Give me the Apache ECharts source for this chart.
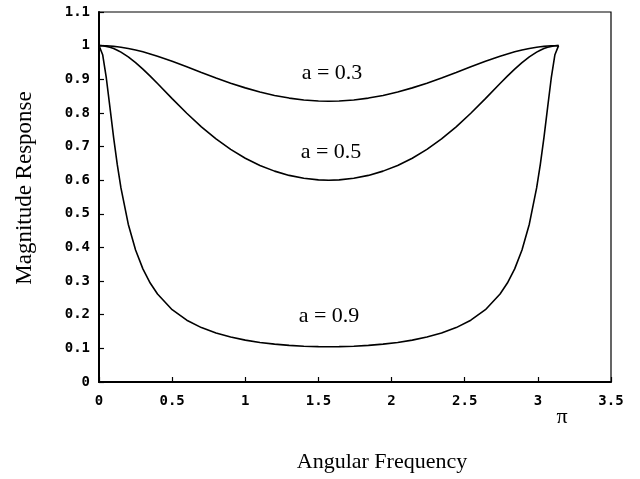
<!DOCTYPE html>
<html>
<head>
<meta charset="utf-8">
<script src="https://cdn.jsdelivr.net/npm/echarts@6/dist/echarts.min.js"></script>
<style>
html,body{margin:0;padding:0;background:#fff;}
#chart{width:640px;height:479px;}
</style>
</head>
<body>
<div id="chart"></div>
<script>
// Angular frequency samples (rad)
var omega = [0, 0.025, 0.05, 0.075, 0.1, 0.125, 0.15, 0.2, 0.25, 0.3, 0.35, 0.4, 0.5, 0.6, 0.7, 0.8, 0.9, 1.0, 1.1, 1.2, 1.3, 1.4, 1.5, 1.5708,
  1.6416, 1.7416, 1.8416, 1.9416, 2.0416, 2.1416, 2.2416, 2.3416, 2.4416, 2.5416, 2.6416, 2.7416, 2.7916, 2.8416, 2.8916, 2.9416, 2.9916, 3.0166, 3.0416, 3.0666, 3.0916, 3.1166, 3.1416];

// Magnitude response
var magA03 = [1.0, 0.99986, 0.99946, 0.99878, 0.99784, 0.99664, 0.99518, 0.99153, 0.98696, 0.98154, 0.97538, 0.96858, 0.95350, 0.93715, 0.92041, 0.90398, 0.88850, 0.87443, 0.86217, 0.85198, 0.84407, 0.83854, 0.83550, 0.83486,
  0.83550, 0.83854, 0.84407, 0.85198, 0.86217, 0.87443, 0.88850, 0.90398, 0.92041, 0.93715, 0.95350, 0.96858, 0.97538, 0.98154, 0.98696, 0.99153, 0.99518, 0.99664, 0.99784, 0.99878, 0.99946, 0.99986, 1.0];

var magA05 = [1.0, 0.99944, 0.99779, 0.99505, 0.99126, 0.98646, 0.98072, 0.96666, 0.94967, 0.93038, 0.90946, 0.88750, 0.84256, 0.79890, 0.75858, 0.72266, 0.69158, 0.66537, 0.64389, 0.62692, 0.61423, 0.60563, 0.60096, 0.6,
  0.60096, 0.60563, 0.61423, 0.62692, 0.64389, 0.66537, 0.69158, 0.72266, 0.75858, 0.79890, 0.84256, 0.88750, 0.90946, 0.93038, 0.94967, 0.96666, 0.98072, 0.98646, 0.99126, 0.99505, 0.99779, 0.99944, 1.0];

var magA09 = [1.0, 0.97308, 0.90380, 0.81543, 0.72653, 0.64616, 0.57694, 0.46920, 0.39243, 0.33637, 0.29421, 0.26162, 0.21502, 0.18376, 0.16169, 0.14558, 0.13355, 0.12447, 0.11762, 0.11253, 0.10890, 0.10650, 0.10523, 0.10497,
  0.10523, 0.10650, 0.10890, 0.11253, 0.11762, 0.12447, 0.13355, 0.14558, 0.16169, 0.18376, 0.21502, 0.26162, 0.29421, 0.33637, 0.39243, 0.46920, 0.57694, 0.64616, 0.72653, 0.81543, 0.90380, 0.97308, 1.0];

var seriesNames = ['a = 0.3', 'a = 0.5', 'a = 0.9'];
var xTitle = 'Angular Frequency';
var yTitle = 'Magnitude Response';
var piLabel = 'π';

function pairs(xs, ys) {
  var out = [];
  for (var i = 0; i < xs.length; i++) out.push([xs[i], ys[i]]);
  return out;
}

var chart = echarts.init(document.getElementById('chart'), null, {renderer: 'canvas'});

var tickFont = {fontFamily: 'DejaVu Sans Mono', fontWeight: 'bold', fontSize: 14, color: '#000'};
var lineStyle = {color: '#000', width: 1.6};

var option = {
  backgroundColor: '#fff',
  animation: false,
  grid: {left: 99, top: 12, right: 29, bottom: 97, show: true, borderColor: '#000', borderWidth: 1.2, backgroundColor: 'transparent'},
  xAxis: {
    type: 'value', min: 0, max: 3.5, interval: 0.5,
    axisLine: {show: true, onZero: false, lineStyle: {color: '#000', width: 2}},
    axisTick: {show: true, inside: true, length: 5, lineStyle: {color: '#000', width: 1.2}},
    splitLine: {show: false},
    axisLabel: Object.assign({margin: 12, formatter: function (v) { return String(Math.round(v * 10) / 10); }}, tickFont)
  },
  yAxis: {
    type: 'value', min: 0, max: 1.1, interval: 0.1,
    axisLine: {show: true, onZero: false, lineStyle: {color: '#000', width: 2}},
    axisTick: {show: true, inside: true, length: 5, lineStyle: {color: '#000', width: 1.2}},
    splitLine: {show: false},
    axisLabel: Object.assign({margin: 9, formatter: function (v) { return String(Math.round(v * 10) / 10); }}, tickFont)
  },
  series: [
    {name: seriesNames[0], type: 'line', data: pairs(omega, magA03), showSymbol: false, symbol: 'none', smooth: false, lineStyle: lineStyle},
    {name: seriesNames[1], type: 'line', data: pairs(omega, magA05), showSymbol: false, symbol: 'none', smooth: false, lineStyle: lineStyle},
    {name: seriesNames[2], type: 'line', data: pairs(omega, magA09), showSymbol: false, symbol: 'none', smooth: false, lineStyle: lineStyle}
  ],
  graphic: [
    {type: 'text', x: 332, y: 73, style: {text: seriesNames[0], font: '22px "Liberation Serif"', fill: '#000', align: 'center', verticalAlign: 'middle'}},
    {type: 'text', x: 331, y: 152, style: {text: seriesNames[1], font: '22px "Liberation Serif"', fill: '#000', align: 'center', verticalAlign: 'middle'}},
    {type: 'text', x: 329, y: 316, style: {text: seriesNames[2], font: '22px "Liberation Serif"', fill: '#000', align: 'center', verticalAlign: 'middle'}},
    {type: 'text', x: 562, y: 417, style: {text: piLabel, font: '22px "Liberation Serif"', fill: '#000', align: 'center', verticalAlign: 'middle'}},
    {type: 'text', x: 382, y: 462, style: {text: xTitle, font: '22px "Liberation Serif"', fill: '#000', align: 'center', verticalAlign: 'middle'}},
    {type: 'text', x: 25, y: 188, rotation: Math.PI / 2, style: {text: yTitle, font: '23px "Liberation Serif"', fill: '#000', align: 'center', verticalAlign: 'middle'}}
  ]
};

chart.setOption(option);
</script>
</body>
</html>
